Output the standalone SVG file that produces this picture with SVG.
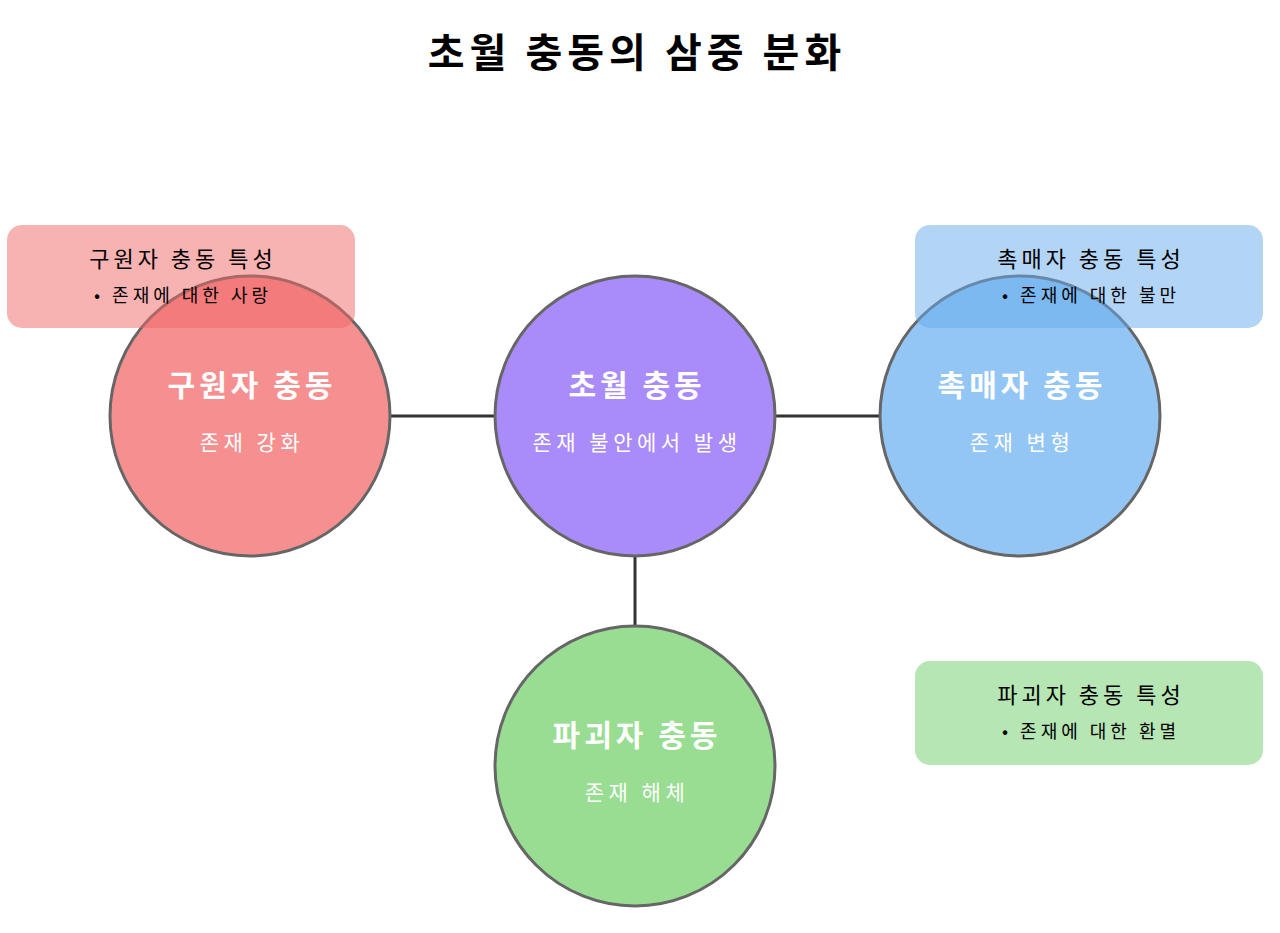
<svg xmlns="http://www.w3.org/2000/svg" width="1280" height="933" viewBox="0 0 1280 933">
<style>
text{font-family:"Noto Sans CJK KR","Noto Sans",sans-serif;text-anchor:middle}
.title{font-size:40px;font-weight:bold;fill:#000;letter-spacing:5px}
.node{stroke:#666;stroke-width:3}
.nt{font-size:30px;font-weight:bold;fill:#fff;letter-spacing:4px}
.ns{font-size:21px;fill:#fff;letter-spacing:4.5px}
.bt{font-size:22px;fill:#000;letter-spacing:4px}
.bs{font-size:18px;fill:#000;letter-spacing:4px}
.conn line{stroke:#333;stroke-width:3}
</style>
<rect width="1280" height="933" fill="#fff"/>
<text class="title" x="637" y="67">초월 충동의 삼중 분화</text>
<g class="conn" id="connectors">
<line x1="390" y1="416" x2="495" y2="416"/>
<line x1="775" y1="416" x2="880" y2="416"/>
<line x1="635" y1="556" x2="635" y2="626"/>
</g>
<g id="node-center">
<circle class="node" cx="635" cy="416" r="140" fill="#a98bf9"/>
<text class="nt" x="637" y="396">초월 충동</text>
<text class="ns" x="637" y="450">존재 불안에서 발생</text>
</g>
<g id="node-savior">
<circle class="node" cx="250" cy="416" r="140" fill="#f69090"/>
<text class="nt" x="252" y="396">구원자 충동</text>
<text class="ns" x="252" y="450">존재 강화</text>
</g>
<g id="node-catalyst">
<circle class="node" cx="1020" cy="416" r="140" fill="#94c6f5"/>
<text class="nt" x="1022" y="396">촉매자 충동</text>
<text class="ns" x="1022" y="450">존재 변형</text>
</g>
<g id="node-destroyer">
<circle class="node" cx="635" cy="766" r="140" fill="#98dd92"/>
<text class="nt" x="637" y="746">파괴자 충동</text>
<text class="ns" x="637" y="800">존재 해체</text>
</g>
<g id="box-savior">
<rect x="7" y="225" width="348" height="103" rx="15" fill="#f06666" fill-opacity="0.5"/>
<text class="bt" x="183" y="267">구원자 충동 특성</text>
<text class="bs" x="183" y="302">• 존재에 대한 사랑</text>
</g>
<g id="box-catalyst">
<rect x="915" y="225" width="348" height="103" rx="15" fill="#65abed" fill-opacity="0.5"/>
<text class="bt" x="1091" y="267">촉매자 충동 특성</text>
<text class="bs" x="1091" y="302">• 존재에 대한 불만</text>
</g>
<g id="box-destroyer">
<rect x="915" y="661" width="348" height="104" rx="15" fill="#6bcd67" fill-opacity="0.5"/>
<text class="bt" x="1091" y="703">파괴자 충동 특성</text>
<text class="bs" x="1091" y="738">• 존재에 대한 환멸</text>
</g>
</svg>
